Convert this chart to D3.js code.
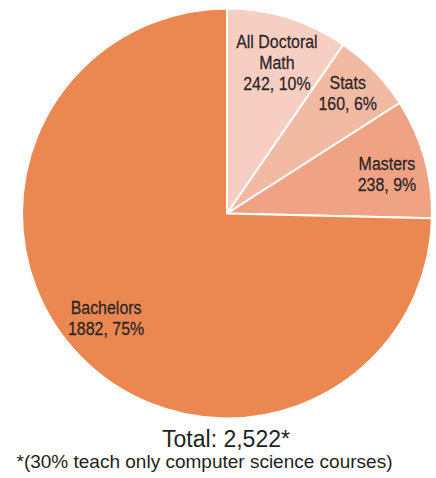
<!DOCTYPE html>
<html>
<head>
<meta charset="utf-8">
<script src="https://cdn.jsdelivr.net/npm/d3@7"></script>
<style>
  html, body { margin: 0; padding: 0; background: #fff; }
  svg { display: block; }
</style>
</head>
<body>
<svg id="chart" width="436" height="478"></svg>
<script>
// Math faculty by highest degree offered at the institution
const categories = [["All Doctoral", "Math"], ["Stats"], ["Masters"], ["Bachelors"]];
const values = [242, 160, 238, 1882];
const colors = ["#f6cfc2", "#f2b9a3", "#f0a384", "#eb8851"];
const totalLabel = "Total: 2,522*";
const footnote = "*(30% teach only computer science courses)";

const width = 436, height = 478;
const cx = 227, cy = 213.5, radius = 205;
const labelRadius = 163;
const lineHeight = 21;
const condense = 0.84; // horizontal squeeze for the narrow slice labels
// hand-placed nudges so each label sits comfortably inside its slice
const labelNudge = [[1.5, 4.3], [3.5, -7.7], [3, 4.6], [-4.3, -9.3]];

const svg = d3.select("#chart");
const g = svg.append("g").attr("transform", `translate(${cx},${cy})`);

const total = d3.sum(values);
const data = values.map((v, i) => ({ name: categories[i], value: v, color: colors[i] }));

const pie = d3.pie().sort(null).value(d => d.value).startAngle(0).endAngle(2 * Math.PI);
const arc = d3.arc().innerRadius(0).outerRadius(radius);
const labelArc = d3.arc().innerRadius(labelRadius).outerRadius(labelRadius);

const arcs = pie(data);

g.selectAll("path.slice")
  .data(arcs)
  .join("path")
  .attr("class", "slice")
  .attr("d", arc)
  .attr("fill", d => d.data.color)
  .attr("stroke", "#fff")
  .attr("stroke-width", 2)
  .attr("stroke-linejoin", "miter");

const fmtPct = v => Math.round(v / total * 100) + "%";

g.selectAll("text.label")
  .data(arcs)
  .join("text")
  .attr("class", "label")
  .attr("text-anchor", "middle")
  .attr("font-family", "'Liberation Sans', Arial, sans-serif")
  .attr("font-size", 19)
  .attr("fill", "#2b2526")
  .attr("stroke", "#2b2526")
  .attr("stroke-width", 0.25)
  .each(function (d, i) {
    const lines = d.data.name.concat([`${d.data.value}, ${fmtPct(d.data.value)}`]);
    const [x, y] = labelArc.centroid(d);
    const [nx, ny] = labelNudge[i];
    const firstBaseline = y + ny - (lines.length - 1) * lineHeight / 2 + 6.8;
    d3.select(this)
      .attr("transform", `translate(${x + nx},${firstBaseline}) scale(${condense},1)`)
      .selectAll("tspan")
      .data(lines)
      .join("tspan")
      .attr("x", 0)
      .attr("y", (_, j) => j * lineHeight)
      .text(t => t);
  });

svg.append("text")
  .attr("x", 226)
  .attr("y", 447)
  .attr("text-anchor", "middle")
  .attr("font-family", "'Liberation Sans', Arial, sans-serif")
  .attr("font-size", 23)
  .attr("fill", "#231f20")
  .text(totalLabel);

svg.append("text")
  .attr("x", 16.5)
  .attr("y", 468)
  .attr("font-family", "'Liberation Sans', Arial, sans-serif")
  .attr("font-size", 19)
  .attr("fill", "#231f20")
  .text(footnote);
</script>
</body>
</html>
